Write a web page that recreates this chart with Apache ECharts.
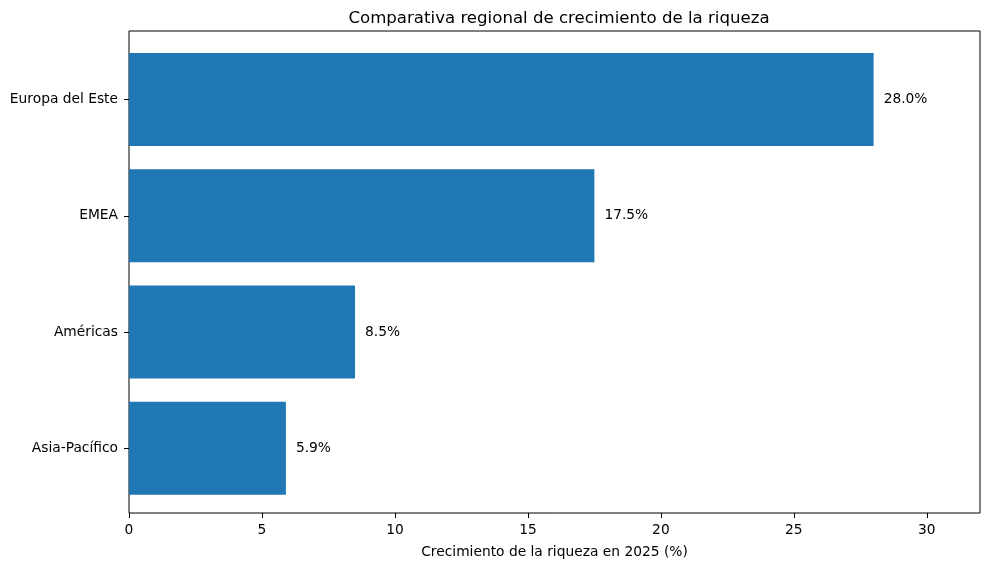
<!DOCTYPE html>
<html><head><meta charset="utf-8">
<script src="https://cdn.jsdelivr.net/npm/echarts@6/dist/echarts.min.js"></script>
<style>html,body{margin:0;padding:0;background:#fff}#c{width:989px;height:569px}</style>
</head><body><div id="c"></div>
<script>
const categories = ['Asia-Pacífico', 'Américas', 'EMEA', 'Europa del Este'];
const values = [5.9, 8.5, 17.5, 28.0];
const xTicks = [0, 5, 10, 15, 20, 25, 30];

const chart = echarts.init(document.getElementById('c'), null, {renderer: 'canvas'});
const F = 'DejaVu Sans';
chart.setOption({
  animation: false,
  backgroundColor: '#fff',
  title: {
    text: 'Comparativa regional de crecimiento de la riqueza',
    left: 554, top: 5, textAlign: 'center',
    textStyle: {fontFamily: F, fontSize: 16.6, fontWeight: 'normal', color: '#000'}
  },
  grid: [
    {left: 129, right: 9, top: 31, bottom: 56, show: true, borderColor: '#000', borderWidth: 1, backgroundColor: 'transparent'},
    {left: 129, right: 9, top: 41.4, bottom: 62.6}
  ],
  xAxis: [
    {gridIndex: 0, type: 'value', min: 0, max: 32, interval: 5,
     name: 'Crecimiento de la riqueza en 2025 (%)', nameLocation: 'middle', nameGap: 32,
     nameTextStyle: {fontFamily: F, fontSize: 13.8, color: '#000'},
     axisLine: {show: false}, splitLine: {show: false},
     axisTick: {show: true, length: 5, lineStyle: {color: '#000'}, customValues: xTicks},
     axisLabel: {fontFamily: F, fontSize: 13.8, color: '#000', margin: 10, customValues: xTicks}},
    {gridIndex: 1, type: 'value', min: 0, max: 32, show: false}
  ],
  yAxis: [
    {gridIndex: 0, type: 'value', min: 0, max: 1, show: false},
    {gridIndex: 1, type: 'category', data: categories,
     axisLine: {show: false},
     axisTick: {show: true, alignWithLabel: true, length: 5, lineStyle: {color: '#000'}},
     axisLabel: {fontFamily: F, fontSize: 13.8, color: '#000', margin: 11}}
  ],
  series: [{
    type: 'bar', xAxisIndex: 1, yAxisIndex: 1,
    data: values, barCategoryGap: '20%',
    itemStyle: {color: '#1f77b4'},
    label: {show: true, position: 'right', distance: 10,
      fontFamily: F, fontSize: 13.8, color: '#000',
      formatter: p => p.value.toFixed(1) + '%'}
  }]
});
</script></body></html>
